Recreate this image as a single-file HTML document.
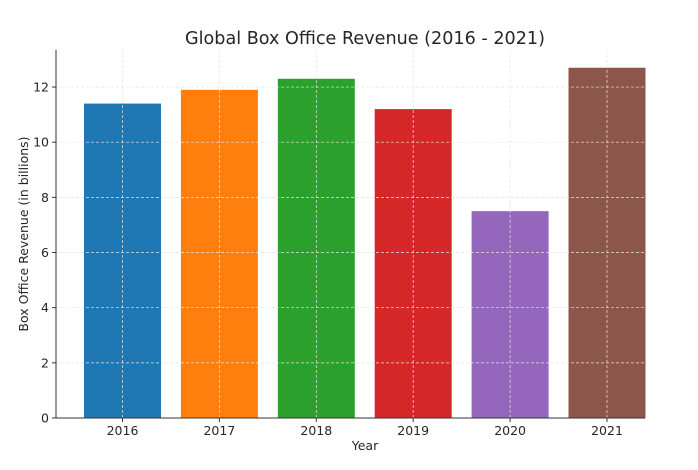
<!DOCTYPE html>
<html><head><meta charset="utf-8"><style>
body{margin:0;background:#fff;}
svg text{font-family:"DejaVu Sans","Liberation Sans",sans-serif;fill:#262626;}
</style></head><body>
<svg width="698" height="465" xmlns="http://www.w3.org/2000/svg">
<g id="g"></g>
</svg>
<script>
const categories=["2016","2017","2018","2019","2020","2021"];
const revenue=[11.4,11.9,12.3,11.2,7.5,12.7];
const colors=["#1f77b4","#ff7f0e","#2ca02c","#d62728","#9467bd","#8c564b"];
const yTicks=[0,2,4,6,8,10,12];
const NS="http://www.w3.org/2000/svg";
const g=document.getElementById('g');
const x0=56,x1=645,yBase=418,yTop=50;
const step=96.9,c0=122.5,bw=77;
const xc=i=>c0+i*step;
const y=v=>yBase-v*27.58;
function mk(t,a,txt){const e=document.createElementNS(NS,t);for(const k in a)e.setAttribute(k,a[k]);if(txt!==undefined)e.textContent=txt;g.appendChild(e);return e;}
categories.forEach((c,i)=>{
 const r=mk('rect',{x:xc(i)-bw/2,y:y(revenue[i]),width:bw,height:yBase-y(revenue[i]),fill:colors[i]});
 
 
});
yTicks.forEach(t=>{
 const l=mk('line',{x1:x0,x2:x1,y1:y(t),y2:y(t),stroke:'#e4e4e4','stroke-dasharray':'3,2','stroke-width':0.7});
 
 
 const tk=mk('line',{x1:x0-4,x2:x0,y1:y(t),y2:y(t),stroke:'#333'});
 
 
 const tx=mk('text',{x:x0-7,y:y(t)+4.5,'text-anchor':'end','font-size':12.5},t);
 
 
});
categories.forEach((c,i)=>{
 const l=mk('line',{x1:xc(i),x2:xc(i),y1:yTop,y2:yBase,stroke:'#e4e4e4','stroke-dasharray':'3,2','stroke-width':0.7});
 
 
 const tk=mk('line',{x1:xc(i),x2:xc(i),y1:yBase,y2:yBase+4,stroke:'#333'});
 
 
 const tx=mk('text',{x:xc(i),y:yBase+17,'text-anchor':'middle','font-size':12.5},c);
 
 
});
const ls=mk('line',{x1:x0,x2:x0,y1:yTop,y2:yBase,stroke:'#333','stroke-width':1});


const bs=mk('line',{x1:x0,x2:x1,y1:yBase,y2:yBase,stroke:'#333','stroke-width':1});


const ti=mk('text',{x:365,y:44,'text-anchor':'middle','font-size':17.6},'Global Box Office Revenue (2016 - 2021)');


const xt=mk('text',{x:365,y:450,'text-anchor':'middle','font-size':12.5},'Year');


const yt=mk('text',{x:0,y:0,'text-anchor':'middle','font-size':12.5,transform:'translate(28,234) rotate(-90)'},'Box Office Revenue (in billions)');


</script>
</body></html>
